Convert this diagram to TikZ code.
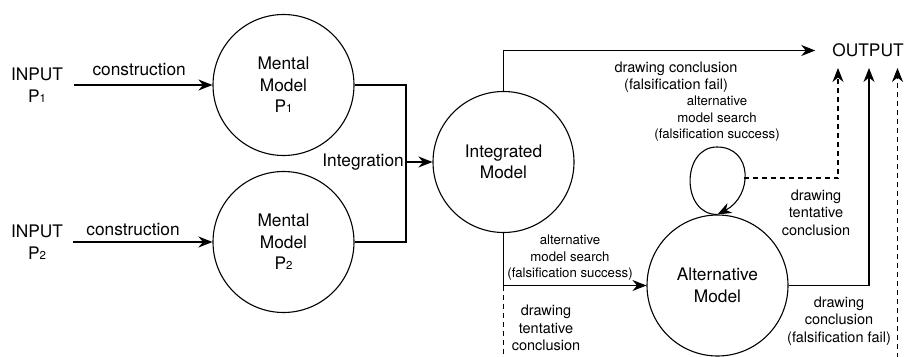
\documentclass[tikz,border=0pt]{standalone}
\usepackage{fontspec}
\setmainfont{TeX Gyre Heros}
\usetikzlibrary{arrows.meta}
\newcommand{\bigtxt}{\fontsize{17.3}{21.5}\selectfont}
\newcommand{\midtxt}{\fontsize{14.5}{17.5}\selectfont}
\newcommand{\smalltxt}{\fontsize{13.2}{16.5}\selectfont}
\newcommand{\psub}[1]{P{\fontsize{11.5}{11.5}\selectfont #1}}
\tikzset{
  model/.style     = {circle, draw, line width=1.1pt, minimum size=141pt,
                      inner sep=0pt, align=center, font=\bigtxt},
  flow/.style      = {-{Stealth[length=14pt,width=11pt,inset=4.5pt]}, line width=1.1pt},
  tentative/.style = {flow, dash pattern=on 5pt off 4pt},
  plain/.style     = {line width=1.1pt},
  edgelbl/.style   = {align=center, font=\midtxt},
  searchlbl/.style = {align=center, font=\smalltxt}
}

\begin{document}
\begin{tikzpicture}[x=1pt,y=-1pt]
  \useasboundingbox (0,0) rectangle (904,356);
  \clip (0,0) rectangle (904,356);
  \fill[white] (0,0) rectangle (904,356);
  % inputs and the two premise models
  \node[align=center,font=\bigtxt,inner sep=11pt] (in1) at (37,85) {INPUT\\\psub{1}};
  \node[align=center,font=\bigtxt,inner sep=10pt] (in2) at (37,242) {INPUT\\\psub{2}};
  \node[model] (mm1) at (283.5,85) {Mental\\Model\\\psub{1}};
  \node[model] (mm2) at (283.5,242) {Mental\\Model\\\psub{2}};
  \draw[flow] (in1.east) -- node[above,pos=0.47,font=\bigtxt,inner sep=9pt] (con1) {construction} (mm1.west);
  \draw[flow] (in2.east) -- node[above,pos=0.43,font=\bigtxt,inner sep=5.5pt] (con2) {construction} (mm2.west);
  % integration step
  \node[model] (int) at (503.5,162) {Integrated\\Model};
  \coordinate (join) at (406,162);
  \draw[plain] (mm1.east) -| (join) |- (mm2.east);
  \draw[flow] (join) -- (int.west);
  \node[anchor=east,font=\bigtxt,inner sep=2pt] (integ) at (join) {Integration};
  % alternative model and output
  \node[model] (alt) at (717.5,285.5) {Alternative\\Model};
  \node[font=\bigtxt,inner sep=0pt] (out) at (868,50.5) {OUTPUT};
  \coordinate (outA) at (838,68);
  \coordinate (outB) at (869,68);
  \coordinate (outC) at (897.5,68);
  \coordinate (loopR) at (743.5,178);
  \coordinate (drop) at (503.5,372);
  \draw[flow,shorten >=17pt] (int.north) |- (out.west);
  \draw[flow] (int.south) |- (alt.west);
  \draw[tentative] (int.south |- alt.west) -- (drop) -| (outC);
  % self loop of the search
  \draw[flow] (alt.north) .. controls (681,215) and (681,147) .. (717,147)
        .. controls (753,147) and (753,196) .. (alt.north);
  \draw[tentative] (loopR) -| (outA);
  \draw[flow] (alt.east) -| (outB);
  % edge labels
  \node[edgelbl] (failA) at (676,77.5) {drawing conclusion\\(falsification fail)};
  \node[searchlbl] (searchA) at (717,119) {alternative\\model search\\(falsification success)};
  \node[searchlbl] (searchB) at (570,258) {alternative\\model search\\(falsification success)};
  \node[edgelbl] (tentA) at (546,328) {drawing\\tentative\\conclusion};
  \node[edgelbl] (tentB) at (816,212.5) {drawing\\tentative\\conclusion};
  \node[edgelbl] (failB) at (839,321) {drawing\\conclusion\\(falsification fail)};
\end{tikzpicture}
\end{document}
